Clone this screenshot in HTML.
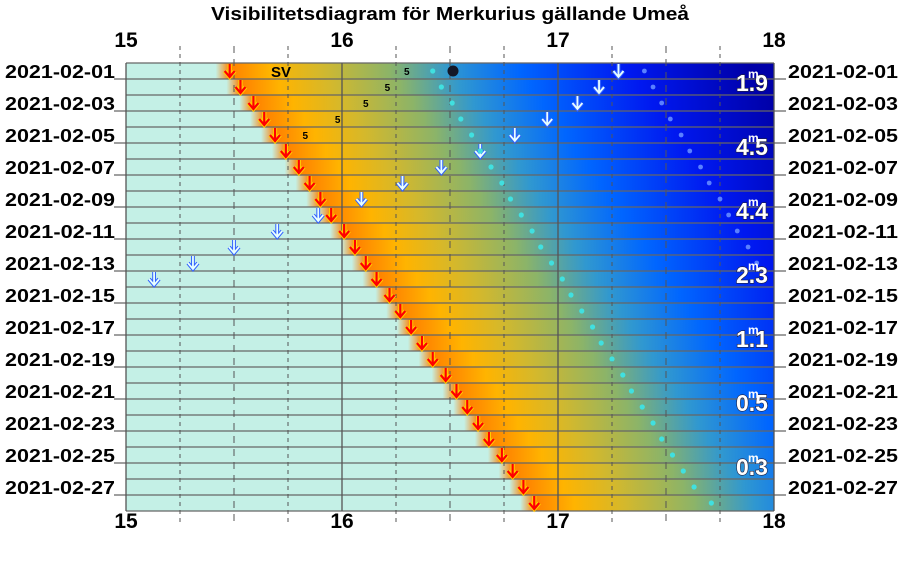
<!DOCTYPE html>
<html><head><meta charset="utf-8"><style>
body{margin:0;background:#fff}
svg{display:block;font-family:"Liberation Sans",sans-serif}
</style></head><body>
<svg id="c" width="900" height="574" viewBox="0 0 900 574">
<text x="211" y="20" textLength="478" lengthAdjust="spacingAndGlyphs" font-weight="bold" font-size="18">Visibilitetsdiagram för Merkurius gällande Umeå</text>
<g id="rows"></g><g id="grid"></g><g id="marks"></g><g id="labels"></g>
</svg>
<script>
const dates=["2021-02-01","2021-02-02","2021-02-03","2021-02-04","2021-02-05","2021-02-06","2021-02-07","2021-02-08","2021-02-09","2021-02-10","2021-02-11","2021-02-12","2021-02-13","2021-02-14","2021-02-15","2021-02-16","2021-02-17","2021-02-18","2021-02-19","2021-02-20","2021-02-21","2021-02-22","2021-02-23","2021-02-24","2021-02-25","2021-02-26","2021-02-27","2021-02-28"];
const sunset=[15.48,15.53,15.59,15.64,15.69,15.74,15.80,15.85,15.90,15.95,16.01,16.06,16.11,16.16,16.22,16.27,16.32,16.37,16.42,16.48,16.53,16.58,16.63,16.68,16.74,16.79,16.84,16.89];
const moon=[17.28,17.19,17.09,16.95,16.80,16.64,16.46,16.28,16.09,15.89,15.70,15.50,15.31,15.13];
const merc=[16.42,16.46,16.51,16.55,16.60,16.64,16.69,16.74,16.78,16.83,16.88,16.92,16.97,17.02,17.06,17.11,17.16,17.20,17.25,17.30,17.34,17.39,17.44,17.48,17.53,17.58,17.63,17.71];
const dots2=[17.40,17.44,17.48,17.52,17.57,17.61,17.66,17.70,17.75,17.79,17.83,17.88,17.92,17.96];
const fives=[16.30,16.21,16.11,15.98,15.83];
const magRows=[1,5,9,13,17,21,25];
const mags=["1","4","4","2","1","0","0"];
const magDec=["9","5","4","3","1","5","3"];
const hourTicks=[15,16,17,18];
const x0=126,pxh=216,y0=63,rh=16;
const X=h=>x0+(h-15)*pxh, Y=i=>y0+i*rh;
const NS="http://www.w3.org/2000/svg";
function mk(t,p,a){const e=document.createElementNS(NS,t);for(const k in a)e.setAttribute(k,a[k]);p.appendChild(e);return e;}
const svg=document.getElementById('c');
const defs=mk('defs',svg,{});
const rowsG=document.getElementById('rows'),gridG=document.getElementById('grid'),marksG=document.getElementById('marks'),labG=document.getElementById('labels');
const stops=[[-14,'#c4f0e6'],[0,'#ff8000'],[40,'#ffb400'],[90,'#d4b82c'],[160,'#8cb468'],[220,'#3098d0'],[290,'#0066ff'],[400,'#0018f0'],[520,'#0000a8']];
const G0=-1000,G1=2000;
dates.forEach((d,i)=>{
 const s=X(sunset[i]);
 const g=mk('linearGradient',defs,{id:'g'+i,gradientUnits:'userSpaceOnUse',x1:G0,x2:G1,y1:0,y2:0});
 stops.forEach(([o,c])=>{mk('stop',g,{offset:(s+o-G0)/(G1-G0),'stop-color':c});});
 const r=mk('rect',rowsG,{x:x0,y:Y(i),width:X(18)-x0,height:rh,fill:'url(#g'+i+')'});
 
 
});
for(let i=0;i<=dates.length;i++){
 const l=mk('line',gridG,{x1:(i%2==1?114:x0),x2:(i%2==1?786:X(18)),y1:Y(i),y2:Y(i),stroke:'#666','stroke-width':1.3});
 
 
}
for(let q=0;q<=12;q++){
 const h=15+q/4,x=X(h);
 const l=mk('line',gridG,{x1:x,x2:x,y1:q%4==0?y0:46,y2:q%4==0?Y(28):522,stroke:'#555','stroke-width':q%4==0?1.3:1,'stroke-dasharray':q%4==0?'none':(q%2==0?'7,6':'4,4')});
 
 
}
hourTicks.forEach(h=>{
 const t1=mk('text',labG,{x:X(h),y:47,'text-anchor':'middle','font-weight':'bold','font-size':21});t1.textContent=h;
 
 
 const t2=mk('text',labG,{x:X(h),y:528,'text-anchor':'middle','font-weight':'bold','font-size':21});t2.textContent=h;
 
 
});
dates.forEach((d,i)=>{
 if(i%2==0){
 const a=mk('text',labG,{x:5,y:Y(i)+15,textLength:110,lengthAdjust:'spacingAndGlyphs','font-weight':'bold','font-size':18});a.textContent=d;
 
 
 const b=mk('text',labG,{x:788,y:Y(i)+15,textLength:110,lengthAdjust:'spacingAndGlyphs','font-weight':'bold','font-size':18});b.textContent=d;
 
 }
});
function arrow(x,y,col,stroke,sw){
 const g=mk('g',marksG,{});
 mk('path',g,{d:`M${x} ${y+1}V${y+13}M${x-5} ${y+8}L${x} ${y+14}L${x+5} ${y+8}`,stroke:stroke,'stroke-width':sw+2,fill:'none'});
 mk('path',g,{d:`M${x} ${y+1}V${y+13}M${x-5} ${y+8}L${x} ${y+14}L${x+5} ${y+8}`,stroke:col,'stroke-width':sw,fill:'none'});
 return g;
}
sunset.forEach((h,i)=>{const a=arrow(X(h),Y(i),'#ff0000','#ffd000',2.2);
 
 });
moon.forEach((h,i)=>{const a=arrow(X(h),Y(i),'#e8ffff','#3060ff',1.8);
 
 });
merc.forEach((h,i)=>{const c=mk('circle',marksG,{cx:X(h),cy:Y(i)+8,r:2.6,fill:'#40e0e0'});
 
 });
dots2.forEach((h,i)=>{const c=mk('circle',marksG,{cx:X(h),cy:Y(i)+8,r:2.4,fill:'#5a80ff'});
 
 });
const bd=mk('circle',marksG,{cx:453,cy:Y(0)+8,r:5.5,fill:'#141828'});


fives.forEach((h,i)=>{const t=mk('text',marksG,{x:X(h),y:Y(i)+12,'text-anchor':'middle','font-weight':'bold','font-size':10});t.textContent='5';
 
 });
const sv=mk('text',marksG,{x:281,y:Y(0)+14,'text-anchor':'middle','font-weight':'bold','font-size':15});sv.textContent='SV';


magRows.forEach((r,i)=>{
 const t=mk('text',marksG,{x:752,y:Y(r)+1+rh/2+3,'text-anchor':'middle','font-weight':'bold','font-size':23,fill:'#fff',stroke:'#202040','stroke-width':1.2,'paint-order':'stroke'});
 t.textContent=mags[i]+'.'+magDec[i];
 
 
 const m=mk('text',marksG,{x:748,y:Y(r)-1,'font-weight':'bold','font-size':12,fill:'#fff'});m.textContent='m';
 
 
});
</script>
</body></html>
